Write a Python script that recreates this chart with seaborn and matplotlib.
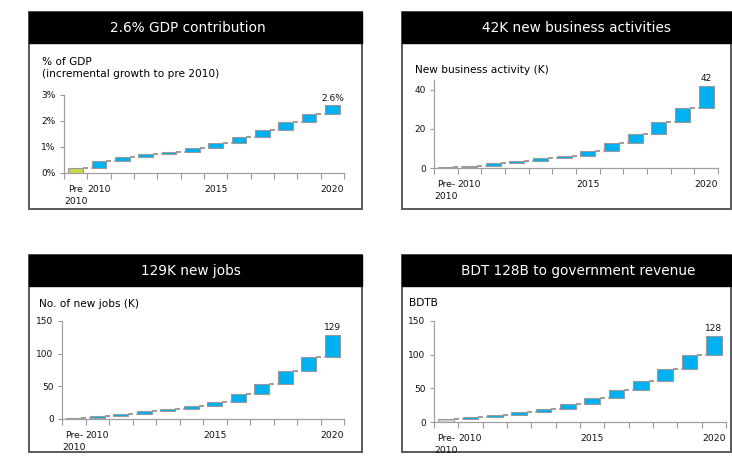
import numpy as np
import pandas as pd
import matplotlib
matplotlib.use("Agg")
import matplotlib.pyplot as plt
from matplotlib.patches import Rectangle
import seaborn as sns

sns.set_theme(style="white")
plt.rcParams['font.family'] = ['DejaVu Sans']

# ---------------- data ----------------
categories = ["Pre-2010", "2010", "2011", "2012", "2013", "2014",
              "2015", "2016", "2017", "2018", "2019", "2020"]

gdp_cum = [0.18, 0.47, 0.62, 0.74, 0.80, 0.96, 1.15, 1.40, 1.65, 1.95, 2.28, 2.60]
biz_cum = [0.5, 1.0, 2.5, 3.5, 5.2, 6.3, 8.6, 12.8, 17.2, 23.7, 30.6, 42.0]
jobs_cum = [2, 4, 8, 12, 16, 20, 26, 38, 54, 73, 95, 129]
rev_cum = [4, 7, 11, 15, 20, 26, 36, 47, 61, 79, 100, 128]

titles = ["2.6% GDP contribution", "42K new business activities",
          "129K new jobs", "BDT 128B to government revenue"]
ylabels = ["% of GDP\n(incremental growth to pre 2010)", "New business activity (K)",
           "No. of new jobs (K)", "BDTB"]
end_labels = ["2.6%", "42", "129", "128"]
yticks = [[0, 1, 2, 3], [0, 20, 40], [0, 50, 100, 150], [0, 50, 100, 150]]
ytick_labels = [["0%", "1%", "2%", "3%"], ["0", "20", "40"],
                ["0", "50", "100", "150"], ["0", "50", "100", "150"]]
ylims = [(0, 3), (0, 45), (0, 150), (0, 150)]
xtick_pos = [0, 1, 6, 11]
xtick_labels_p1 = ["Pre\n2010", "2010", "2015", "2020"]
xtick_labels = ["Pre-\n2010", "2010", "2015", "2020"]
pre_colors = ["#c9d64b", "#a8a8a8", "#d8dde2", "#c8d5df"]
BLUE = "#00b0f0"

series = [gdp_cum, biz_cum, jobs_cum, rev_cum]

W, H = 732, 463
fig = plt.figure(figsize=(W / 100, H / 100), dpi=100)


def fx(x):
    return x / W


def fy(y):
    return 1 - y / H


# panel geometry in pixels
boxes = [(29, 12, 362, 209), (402, 12, 731, 209), (29, 255, 362, 452), (402, 255, 731, 452)]
header_h = 31
title_cx = [188, 576, 191, 578]
axes_px = [(64, 95, 344, 173), (434, 80, 718, 168), (62, 321, 344, 419), (434, 321, 726, 422)]
ylab_pos = [(42, 57), (415, 65), (39, 299), (409, 298)]

for i in range(4):
    x0, y0, x1, y1 = boxes[i]
    # outer box
    fig.add_artist(Rectangle((fx(x0), fy(y1)), (x1 - x0) / W, (y1 - y0) / H,
                             transform=fig.transFigure, facecolor="white",
                             edgecolor="#5a5a5a", lw=1.4, zorder=0))
    # header band
    fig.add_artist(Rectangle((fx(x0), fy(y0 + header_h)), (x1 - x0) / W, header_h / H,
                             transform=fig.transFigure, facecolor="black",
                             edgecolor="black", lw=1.0, zorder=1))
    fig.text(fx(title_cx[i]), fy(y0 + header_h / 2 + 0.5), titles[i], color="white",
             ha="center", va="center", fontsize=9.8, zorder=2)
    fig.text(fx(ylab_pos[i][0]), fy(ylab_pos[i][1]), ylabels[i], color="black",
             ha="left", va="top", fontsize=7.6, linespacing=1.3, zorder=2)

    l, t, r, b = axes_px[i]
    ax = fig.add_axes([fx(l), fy(b), (r - l) / W, (b - t) / H])
    ax.set_facecolor("none")

    cum = np.array(series[i], dtype=float)
    bottoms = np.concatenate([[0.0], cum[:-1]])
    heights = cum - bottoms
    df = pd.DataFrame({"cat": categories, "height": heights, "bottom": bottoms})

    sns.barplot(data=df, x="cat", y="height", bottom=df["bottom"].values,
                order=categories, color=BLUE, saturation=1, width=0.64,
                edgecolor="#9a9a9a", linewidth=0.8, ax=ax, zorder=3)
    ax.patches[0].set_facecolor(pre_colors[i])

    # dashed connectors
    bw = 0.64
    xs = np.arange(len(categories))
    ax.hlines(cum[:-1], xs[:-1] + bw / 2, xs[1:] - bw / 2, colors="#8c8c8c",
              linestyles=(0, (3, 2)), lw=1.2, zorder=2)

    span = ylims[i][1] - ylims[i][0]
    ax.text(xs[-1], cum[-1] + span * 0.03, end_labels[i], ha="center", va="bottom",
            fontsize=6.5, color="#111111", zorder=4)

    ax.set_xlim(-0.5, len(categories) - 0.5)
    ax.set_ylim(*ylims[i])
    ax.set_xlabel("")
    ax.set_ylabel("")

    ax.set_xticks(np.arange(-0.5, len(categories), 1.0))
    ax.set_xticklabels([])
    ax.tick_params(axis="x", which="major", length=4, width=0.8, color="#9a9a9a",
                   direction="out", bottom=True)
    ax.set_xticks(xtick_pos, minor=True)
    ax.set_xticklabels(xtick_labels_p1 if i == 0 else xtick_labels, minor=True,
                       fontsize=6.7, linespacing=1.45)
    ax.tick_params(axis="x", which="minor", length=0, pad=8.5, labelcolor="#111111")
    for lab in ax.get_xticklabels(minor=True):
        lab.set_verticalalignment("top")

    ax.set_yticks(yticks[i])
    ax.set_yticklabels(ytick_labels[i], fontsize=6.5)
    ax.tick_params(axis="y", length=3, width=0.8, color="#9a9a9a", direction="out",
                   left=True, pad=3, labelcolor="#111111")

    for s in ["top", "right"]:
        ax.spines[s].set_visible(False)
    for s in ["left", "bottom"]:
        ax.spines[s].set_visible(True)
        ax.spines[s].set_color("#a0a0a0")
        ax.spines[s].set_linewidth(0.9)

fig.savefig("out.png", dpi=100)
